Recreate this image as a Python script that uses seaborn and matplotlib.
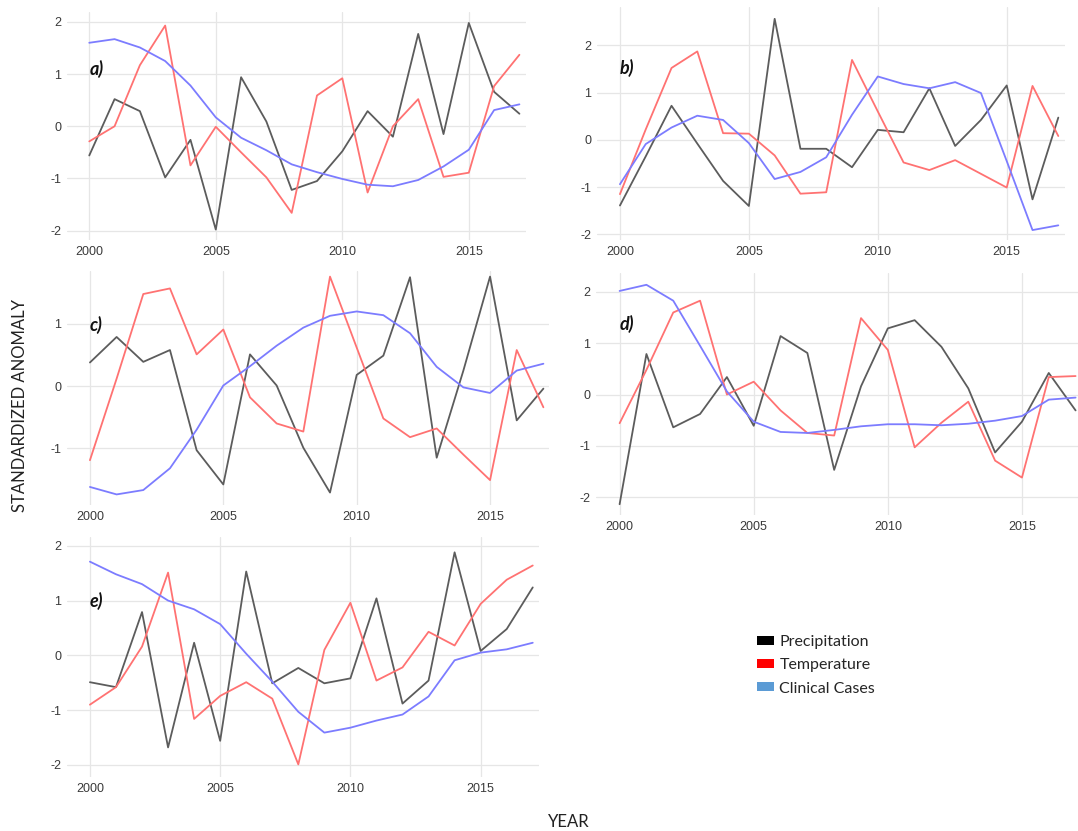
import matplotlib
matplotlib.use("Agg")
import matplotlib.pyplot as plt
from matplotlib.patches import Patch
import seaborn as sns
import pandas as pd

years = list(range(2000, 2018))
series_names = ["Precipitation", "Temperature", "Clinical Cases"]

prec_a = [-0.56, 0.52, 0.29, -0.98, -0.26, -1.98, 0.94, 0.09, -1.22, -1.05, -0.48, 0.29, -0.20, 1.77, -0.15, 1.98, 0.66, 0.24]
temp_a = [-0.29, 0.00, 1.17, 1.93, -0.75, -0.01, -0.50, -0.98, -1.66, 0.59, 0.92, -1.27, 0.00, 0.52, -0.97, -0.89, 0.77, 1.37]
case_a = [1.60, 1.67, 1.51, 1.25, 0.78, 0.17, -0.22, -0.46, -0.73, -0.88, -1.01, -1.12, -1.15, -1.03, -0.77, -0.45, 0.31, 0.42]

prec_b = [-1.39, -0.35, 0.72, -0.08, -0.87, -1.40, 2.56, -0.19, -0.19, -0.58, 0.21, 0.16, 1.09, -0.13, 0.42, 1.15, -1.26, 0.47]
temp_b = [-1.15, 0.22, 1.52, 1.87, 0.14, 0.13, -0.33, -1.14, -1.11, 1.69, 0.60, -0.48, -0.64, -0.43, -0.72, -1.01, 1.14, 0.08]
case_b = [-0.94, -0.09, 0.26, 0.51, 0.42, -0.07, -0.83, -0.68, -0.37, 0.53, 1.34, 1.18, 1.09, 1.22, 0.99, -0.45, -1.91, -1.81]

prec_c = [0.38, 0.79, 0.39, 0.58, -1.03, -1.58, 0.51, 0.01, -0.99, -1.71, 0.18, 0.49, 1.75, -1.15, 0.25, 1.76, -0.55, -0.04]
temp_c = [-1.19, 0.12, 1.48, 1.57, 0.51, 0.91, -0.18, -0.60, -0.73, 1.76, 0.62, -0.52, -0.82, -0.68, -1.10, -1.51, 0.58, -0.34]
case_c = [-1.62, -1.74, -1.67, -1.32, -0.70, 0.01, 0.32, 0.65, 0.94, 1.13, 1.20, 1.14, 0.85, 0.31, -0.02, -0.11, 0.25, 0.36]

prec_d = [-2.14, 0.79, -0.64, -0.38, 0.34, -0.61, 1.14, 0.81, -1.47, 0.16, 1.29, 1.45, 0.93, 0.12, -1.13, -0.53, 0.42, -0.31]
temp_d = [-0.56, 0.48, 1.60, 1.83, 0.00, 0.25, -0.31, -0.75, -0.80, 1.49, 0.87, -1.03, -0.55, -0.14, -1.29, -1.62, 0.34, 0.36]
case_d = [2.02, 2.14, 1.83, 0.95, 0.06, -0.53, -0.73, -0.75, -0.69, -0.62, -0.58, -0.58, -0.60, -0.57, -0.51, -0.42, -0.10, -0.06]

prec_e = [-0.49, -0.58, 0.79, -1.68, 0.23, -1.56, 1.53, -0.51, -0.23, -0.51, -0.42, 1.04, -0.88, -0.46, 1.88, 0.08, 0.48, 1.24]
temp_e = [-0.90, -0.58, 0.16, 1.51, -1.16, -0.74, -0.49, -0.79, -1.99, 0.10, 0.96, -0.46, -0.22, 0.43, 0.18, 0.94, 1.38, 1.64]
case_e = [1.71, 1.48, 1.30, 1.00, 0.84, 0.57, 0.03, -0.48, -1.03, -1.41, -1.32, -1.19, -1.08, -0.75, -0.09, 0.05, 0.11, 0.23]

panel_labels = ["a)", "b)", "c)", "d)", "e)"]
xtick_vals = [2000, 2005, 2010, 2015]

line_colors = {"Precipitation": "#5c5c5c", "Temperature": "#ff7272", "Clinical Cases": "#7c7cff"}
legend_colors = ["#000000", "#ff0000", "#5b9bd5"]

W, H = 1078, 831
sns.set_style("white")
plt.rcParams["font.family"] = ["Liberation Sans", "DejaVu Sans"]
plt.rcParams["axes.unicode_minus"] = False

fig = plt.figure(figsize=(W / 100, H / 100), dpi=100)

def box(l, t, r, b):
    return [l / W, 1 - b / H, (r - l) / W, (b - t) / H]

panels = [
    (prec_a, temp_a, case_a, box(67, 12, 526, 240), (1999.12, 2017.26), (-2.18, 2.19), [-2, -1, 0, 1, 2], 1.10),
    (prec_b, temp_b, case_b, box(597, 7, 1065, 240), (1999.11, 2017.26), (-2.12, 2.81), [-2, -1, 0, 1, 2], 1.52),
    (prec_c, temp_c, case_c, box(67, 271, 549, 505), (1999.14, 2017.21), (-1.91, 1.85), [-1, 0, 1], 0.99),
    (prec_d, temp_d, case_d, box(596, 273, 1078, 515), (1999.12, 2017.09), (-2.35, 2.37), [-2, -1, 0, 1, 2], 1.37),
    (prec_e, temp_e, case_e, box(67, 537, 539, 777), (1999.12, 2017.24), (-2.22, 2.16), [-2, -1, 0, 1, 2], 0.99),
]

for (p, t, c, pos, xl, yl, yt, ly), lab in zip(panels, panel_labels):
    ax = fig.add_axes(pos)
    df = pd.DataFrame({
        "year": years * 3,
        "value": p + t + c,
        "series": [series_names[0]] * 18 + [series_names[1]] * 18 + [series_names[2]] * 18,
    })
    sns.lineplot(data=df, x="year", y="value", hue="series", hue_order=series_names,
                 palette=line_colors, linewidth=1.3, legend=False, ax=ax)
    ax.set_xlim(*xl)
    ax.set_ylim(*yl)
    ax.set_xticks(xtick_vals)
    ax.set_yticks(yt)
    ax.set_xlabel("")
    ax.set_ylabel("")
    ax.grid(True, color="#e6e6e6", linewidth=0.9)
    ax.set_axisbelow(True)
    for s in ax.spines.values():
        s.set_visible(False)
    ax.tick_params(axis="both", length=2.5, width=0.6, color="#bbbbbb",
                   labelsize=9, labelcolor="#3a3a3a", pad=1.5)
    ax.text(2000.0, ly, lab, ha="left", va="center", fontsize=13,
            fontweight="bold", fontstyle="italic", family=["Lato", "DejaVu Sans"], color="#111111")

fig.text(19.6 / W, 1 - 405 / H, "STANDARDIZED ANOMALY", rotation=90, ha="center", va="center",
         fontsize=12, family=["Lato", "DejaVu Sans"], color="#222222")
fig.text(569 / W, 1 - 822 / H, "YEAR", ha="center", va="center",
         fontsize=12, family=["Lato", "DejaVu Sans"], color="#222222")

handles = [Patch(facecolor=col, edgecolor="none") for col in legend_colors]
leg = fig.legend(handles, series_names, loc="upper left", bbox_to_anchor=(757 / W, 1 - 635 / H),
                 frameon=False, handlelength=1.05, handleheight=0.5, handletextpad=0.35,
                 labelspacing=0.58, borderaxespad=0, borderpad=0,
                 prop={"family": ["Lato", "DejaVu Sans"], "size": 11.5})

fig.savefig("out.png", dpi=100)
